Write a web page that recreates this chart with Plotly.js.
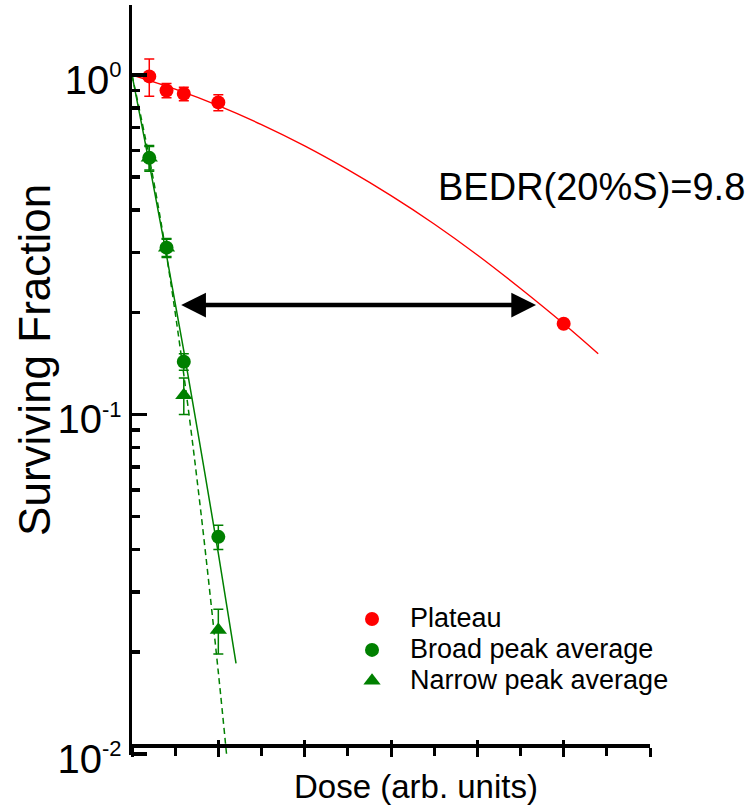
<!DOCTYPE html>
<html><head><meta charset="utf-8">
<script src="https://cdn.plot.ly/plotly-3.0.1.min.js"></script>
<style>html,body{margin:0;padding:0;background:#fff}#chart{width:754px;height:805px}</style>
</head><body><div id="chart"></div>
<script>
const FONT = 'Liberation Sans, Arial, sans-serif';
const RED = '#ff0000';
const GREEN = '#008000';

// measured points
const plateauDose = [2, 4, 6, 10, 50];
const plateauSF = [0.99, 0.90, 0.88, 0.83, 0.185];
const plateauErr = [0.125, 0.043, 0.04, 0.045, 0];

const peakDose = [2, 4, 6, 10];
const broadSF = [0.57, 0.31, 0.143, 0.0436];
const broadErr = [0.05, 0.018, 0.008, 0.0036];
const narrowSF = [0.57, 0.31, 0.114, 0.0232];
const narrowErr = [0.045, 0.02, 0.014, 0.0035];

// fitted curves
const plateauFitDose = [0, 5, 10, 15, 20, 25, 30, 35, 40, 45, 50, 54];
const plateauFitSF = [1.0, 0.908, 0.812, 0.714, 0.618, 0.526, 0.441, 0.364, 0.295, 0.235, 0.185, 0.151];
const broadFitDose = [0, 2, 4, 6, 8, 10, 12.05];
const broadFitSF = [1.0, 0.548, 0.294, 0.154, 0.078, 0.039, 0.0185];
const narrowFitDose = [0, 2, 4, 6, 8, 10, 11];
const narrowFitSF = [1.0, 0.57, 0.294, 0.131, 0.051, 0.0174, 0.0097];

// BEDR arrow
const arrowDose = [5.35, 46.8];
const arrowSF = 0.21;
const bedrLabel = 'BEDR(20%S)=9.8';

// axes
const xRange = [0, 60];
const xMajorStep = 10;
const xMinorStep = 5;
const yMajorVals = [0.01, 0.1, 1];
const yMajorExp = ['-2', '-1', '0'];
const yMinorVals = [0.02, 0.03, 0.04, 0.05, 0.06, 0.07, 0.08, 0.09, 0.2, 0.3, 0.4, 0.5, 0.6, 0.7, 0.8, 0.9];
const xTitle = 'Dose (arb. units)';
const yTitle = 'Surviving Fraction';
const legendNames = ['Plateau', 'Broad peak average', 'Narrow peak average'];

const legendName = s => '<span style="font-size:27px">' + s + '</span>';
const yTickText = yMajorExp.map(e => '10<sup><span style="font-size:22px">' + e + '</span></sup>');

const errStyle = (arr, c) => ({type: 'data', array: arr, visible: true, color: c, thickness: 1.5, width: 5});

const traces = [
  {x: plateauFitDose, y: plateauFitSF, mode: 'lines', line: {color: RED, width: 1.4, shape: 'spline'}, showlegend: false, hoverinfo: 'skip'},
  {x: broadFitDose, y: broadFitSF, mode: 'lines', line: {color: GREEN, width: 1.5, shape: 'spline'}, showlegend: false, hoverinfo: 'skip'},
  {x: narrowFitDose, y: narrowFitSF, xaxis: 'x2', mode: 'lines', line: {color: GREEN, width: 1.5, dash: '6px,4px', shape: 'spline'}, showlegend: false, hoverinfo: 'skip'},
  {x: plateauDose, y: plateauSF, name: legendName(legendNames[0]), mode: 'markers', marker: {color: RED, size: 14, symbol: 'circle'}, error_y: errStyle(plateauErr, RED)},
  {x: peakDose, y: broadSF, name: legendName(legendNames[1]), mode: 'markers', marker: {color: GREEN, size: 14, symbol: 'circle'}, error_y: errStyle(broadErr, GREEN)},
  {x: peakDose, y: narrowSF, name: legendName(legendNames[2]), mode: 'markers', marker: {color: GREEN, size: 15, symbol: 'triangle-up'}, error_y: errStyle(narrowErr, GREEN)}
];

const axisPos = 0.0133;
const layout = {
  width: 754, height: 805,
  margin: {l: 132, r: 104, t: 5, b: 50, pad: 0},
  paper_bgcolor: '#ffffff', plot_bgcolor: '#ffffff',
  font: {family: FONT, color: '#000000'},
  showlegend: true,
  legend: {x: 0.39, y: 0.2087, xanchor: 'left', yanchor: 'top', bgcolor: 'rgba(0,0,0,0)', borderwidth: 0,
           itemwidth: 66, font: {size: 21.5, family: FONT, color: '#000000'}, tracegroupgap: 0},
  xaxis: {range: xRange, anchor: 'free', position: axisPos, showline: true, linewidth: 3.5, linecolor: '#000',
          ticks: 'outside', ticklen: 9, tickwidth: 3, tickcolor: '#000', tick0: 0, dtick: xMajorStep,
          showticklabels: false, showgrid: false, zeroline: false,
          minor: {tick0: 0, dtick: xMinorStep, ticks: 'outside', ticklen: 8, tickwidth: 3, tickcolor: '#000', showgrid: false}},
  xaxis2: {range: xRange, overlaying: 'x', anchor: 'free', position: axisPos, showline: false,
           ticks: 'inside', ticklen: 5, tickwidth: 3, tickcolor: '#000', tick0: 0, dtick: xMajorStep,
           showticklabels: false, showgrid: false, zeroline: false},
  yaxis: {type: 'log', range: [-2.003, 0.206], showline: true, linewidth: 3.5, linecolor: '#000',
          ticks: 'inside', ticklen: 15, tickwidth: 3.5, tickcolor: '#000',
          tickmode: 'array', tickvals: yMajorVals, ticktext: yTickText,
          tickfont: {size: 40, family: FONT, color: '#000'}, ticklabelstandoff: -1, ticklabelshift: 5,
          showgrid: false, zeroline: false,
          minor: {tickmode: 'array', tickvals: yMinorVals, ticks: 'inside', ticklen: 8, tickwidth: 3.5, tickcolor: '#000', showgrid: false}},
  annotations: [
    {x: arrowDose[1], y: Math.log10(arrowSF), ax: arrowDose[0], ay: Math.log10(arrowSF),
     xref: 'x', yref: 'y', axref: 'x', ayref: 'y', text: ' ', showarrow: true,
     arrowhead: 2, startarrowhead: 2, arrowside: 'end+start', arrowsize: 1.1, startarrowsize: 1.1,
     arrowwidth: 4.5, arrowcolor: '#000', standoff: 0, startstandoff: 0},
    {xref: 'paper', yref: 'paper', x: 0.587, y: 0.757, xanchor: 'left', yanchor: 'middle',
     text: bedrLabel, showarrow: false, font: {size: 38, family: FONT, color: '#000'}},
    {xref: 'paper', yref: 'paper', x: 0.548, y: -0.042, xanchor: 'center', yanchor: 'middle',
     text: xTitle, showarrow: false, font: {size: 33, family: FONT, color: '#000'}},
    {xref: 'paper', yref: 'paper', x: -0.187, y: 0.527, xanchor: 'center', yanchor: 'middle', textangle: -90,
     text: yTitle, showarrow: false, font: {size: 44, family: FONT, color: '#000'}}
  ]
};

Plotly.newPlot('chart', traces, layout, {displayModeBar: false, staticPlot: true});
</script>
</body></html>
